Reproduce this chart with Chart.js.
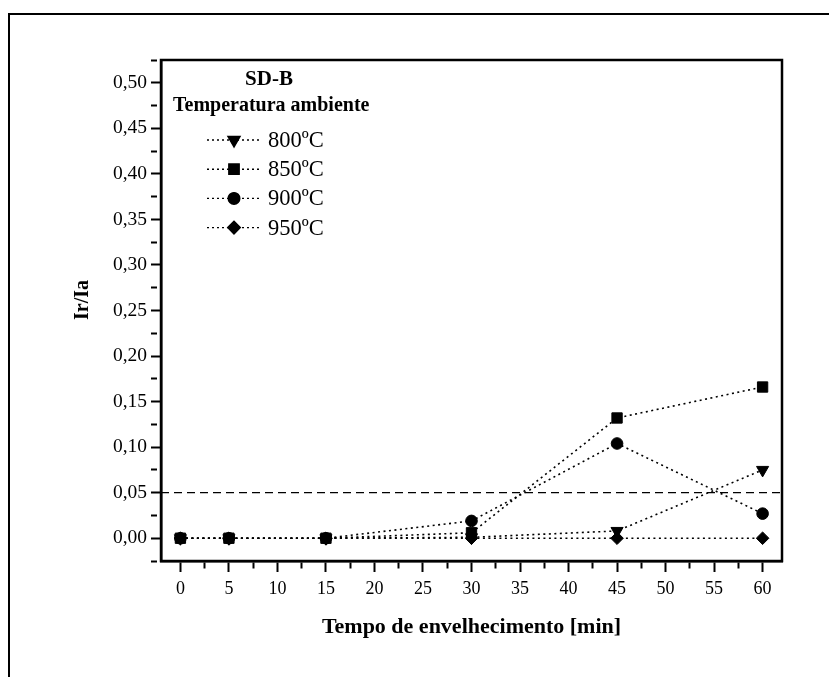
<!DOCTYPE html>
<html>
<head>
<meta charset="utf-8">
<script src="https://cdn.jsdelivr.net/npm/chart.js"></script>
<style>
  body { margin: 0; background: #fff; }
  #wrap { width: 829px; height: 677px; }
</style>
</head>
<body>
<div id="wrap"><canvas id="grafico" width="829" height="677"></canvas></div>
<script>
const tempos = [0, 5, 15, 30, 45, 60];
const serie800 = [0, 0, 0, 0.001, 0.008, 0.075];
const serie850 = [0, 0, 0, 0.006, 0.132, 0.166];
const serie900 = [0, 0, 0, 0.019, 0.104, 0.027];
const serie950 = [0, 0, 0, 0, 0, 0];
const rotulos = ['800ºC', '850ºC', '900ºC', '950ºC'];
const limite = 0.05;
const limiteX = [-2, 62];
const tituloLegenda = ['SD-B', 'Temperatura ambiente'];
const tituloY = 'Ir/Ia';

const fonte = "'Liberation Serif', 'Times New Roman', serif";

function pontos(valores) {
  return tempos.map((t, i) => ({ x: t, y: valores[i] }));
}

function serie(label, valores, estilo, raio, rot) {
  return {
    label: label,
    data: pontos(valores),
    showLine: true,
    borderColor: '#000',
    backgroundColor: '#000',
    borderWidth: 1.6,
    borderDash: [2, 3.5],
    pointStyle: estilo,
    pointRadius: raio,
    pointRotation: rot,
    pointBorderWidth: 1,
    pointHoverRadius: raio
  };
}

const datasets = [
  serie(rotulos[0], serie800, 'triangle', 7, 180),
  serie(rotulos[1], serie850, 'rect', 7.3, 0),
  serie(rotulos[2], serie900, 'circle', 5.8, 0),
  serie(rotulos[3], serie950, 'rectRot', 6.3, 0),
  {
    label: 'limite',
    data: limiteX.map(x => ({ x: x, y: limite })),
    showLine: true,
    borderColor: '#000',
    borderWidth: 1.3,
    borderDash: [8, 5],
    pointRadius: 0
  }
];

// moldura externa, borda do grafico, titulo do eixo y e legenda interna
const extras = {
  id: 'extras',
  afterDraw(chart) {
    const ctx = chart.ctx;
    const a = chart.chartArea;
    ctx.save();
    ctx.strokeStyle = '#000';
    ctx.setLineDash([]);
    ctx.lineWidth = 2;
    ctx.beginPath();
    ctx.moveTo(9, chart.height);
    ctx.lineTo(9, 14);
    ctx.lineTo(chart.width, 14);
    ctx.stroke();

    ctx.lineWidth = 2.5;
    ctx.strokeRect(a.left, a.top, a.right - a.left, a.bottom - a.top);

    ctx.fillStyle = '#000';
    ctx.textBaseline = 'middle';

    ctx.save();
    ctx.translate(a.left - 78, a.top + 240);
    ctx.rotate(-Math.PI / 2);
    ctx.textAlign = 'center';
    ctx.font = 'bold 20px ' + fonte;
    ctx.fillText(tituloY, 0, 0);
    ctx.restore();

    ctx.font = 'bold 21px ' + fonte;
    ctx.textAlign = 'center';
    ctx.fillText(tituloLegenda[0], a.left + 108, a.top + 20);
    ctx.font = 'bold 20px ' + fonte;
    ctx.textAlign = 'left';
    ctx.fillText(tituloLegenda[1], a.left + 12, a.top + 46);

    ctx.font = '22.5px ' + fonte;
    for (let i = 0; i < 4; i++) {
      const ds = chart.data.datasets[i];
      const y = a.top + 80 + i * 29.2;
      const x0 = a.left + 46, xm = a.left + 73, x1 = a.left + 100;
      ctx.lineWidth = 1.4;
      ctx.setLineDash([2, 3]);
      ctx.beginPath();
      ctx.moveTo(x0, y);
      ctx.lineTo(x1, y);
      ctx.stroke();
      ctx.setLineDash([]);
      Chart.helpers.drawPoint(ctx, {
        pointStyle: ds.pointStyle,
        radius: ds.pointRadius,
        rotation: ds.pointRotation,
        borderWidth: 1
      }, xm, y);
      ctx.fill();
      ctx.fillText(ds.label, a.left + 107, y + 1);
    }
    ctx.restore();
  }
};

new Chart(document.getElementById('grafico'), {
  type: 'scatter',
  data: { datasets: datasets },
  plugins: [extras],
  options: {
    responsive: false,
    animation: false,
    events: [],
    layout: { padding: { top: 60, right: 47, left: 0, bottom: 0 } },
    plugins: {
      legend: { display: false },
      tooltip: { enabled: false }
    },
    scales: {
      x: {
        type: 'linear',
        min: -2,
        max: 62,
        afterFit: s => { s.height = 116; },
        border: { display: true, color: '#000', width: 2.5 },
        grid: {
          drawOnChartArea: false,
          drawTicks: true,
          tickLength: 11,
          tickWidth: 2,
          tickColor: '#000',
          tickBorderDash: c => (c.tick && c.tick.value % 5 !== 0) ? [6, 40] : []
        },
        ticks: {
          stepSize: 2.5,
          includeBounds: false,
          autoSkip: false,
          maxRotation: 0,
          padding: 6,
          color: '#000',
          font: { family: fonte, size: 18 },
          callback: v => v % 5 === 0 ? String(v) : ''
        },
        title: {
          display: true,
          text: 'Tempo de envelhecimento [min]',
          color: '#000',
          font: { family: fonte, size: 22, weight: 'bold' },
          padding: { top: 0, bottom: 36 }
        }
      },
      y: {
        type: 'linear',
        min: -0.025,
        max: 0.525,
        afterFit: s => { s.width = 161; },
        border: { display: true, color: '#000', width: 2.5 },
        grid: {
          drawOnChartArea: false,
          drawTicks: true,
          tickLength: 10,
          tickWidth: 2,
          tickColor: '#000',
          tickBorderDash: c => (c.tick && Math.abs(Math.round(c.tick.value * 1000)) % 50 !== 0) ? [6, 40] : []
        },
        ticks: {
          stepSize: 0.025,
          includeBounds: false,
          autoSkip: false,
          padding: 4,
          color: '#000',
          font: { family: fonte, size: 19.5 },
          callback: v => Math.abs(Math.round(v * 1000)) % 50 === 0 ? v.toFixed(2).replace('.', ',') : ''
        },
        title: { display: false }
      }
    }
  }
});
</script>
</body>
</html>
